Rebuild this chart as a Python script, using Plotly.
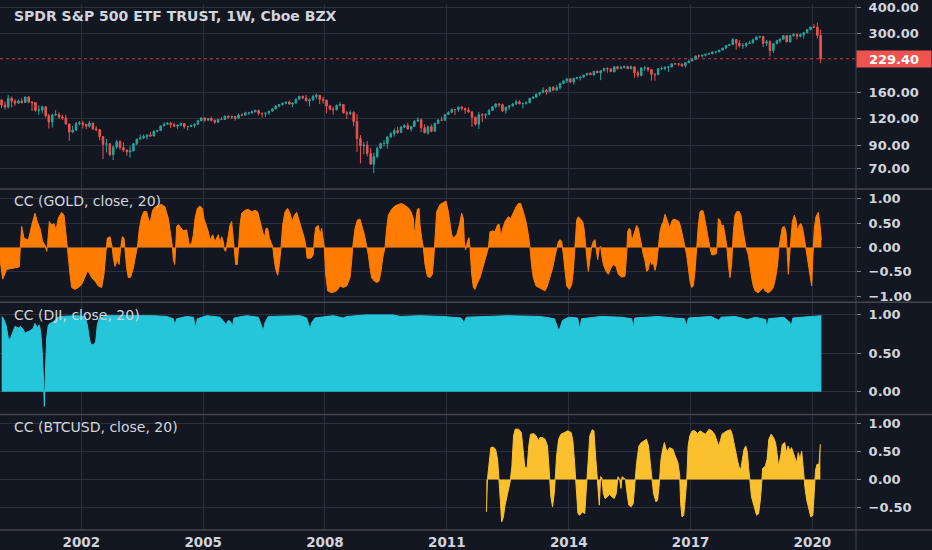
import numpy as np
import pandas as pd
import plotly.graph_objects as go
from plotly.subplots import make_subplots

# SPY monthly candles, Jan 2000 .. Mar 2020
SPY_FIRST_OPEN = 146.9
SPY_CLOSE = [
    139.4, 136.6, 149.9, 145.2, 142.1, 145.5, 143.1, 151.8, 143.7, 142.9, 131.5, 132.0,
    136.6, 124.0, 116.0, 124.9, 125.6, 122.4, 121.1, 113.4, 104.1, 106.0, 113.9, 114.8,
    113.0, 110.7, 114.7, 107.7, 106.7, 99.0, 91.2, 91.6, 81.5, 88.6, 93.6, 88.0,
    85.6, 84.1, 84.8, 91.7, 96.4, 97.5, 99.0, 100.8, 99.6, 105.1, 105.8, 111.2,
    113.1, 114.5, 112.6, 110.7, 112.1, 114.1, 110.2, 110.4, 111.5, 113.0, 117.4, 121.2,
    118.1, 120.4, 118.1, 115.7, 119.2, 119.1, 123.4, 122.0, 122.9, 120.7, 124.9, 124.8,
    128.0, 128.1, 129.5, 131.1, 127.0, 127.0, 127.7, 130.4, 133.6, 137.8, 140.1, 141.8,
    143.8, 140.7, 142.1, 148.2, 153.1, 150.3, 145.5, 147.4, 152.7, 154.9, 148.1, 146.8,
    137.9, 133.1, 132.3, 138.6, 140.0, 128.0, 126.7, 128.3, 116.6, 96.9, 89.6, 90.3,
    82.6, 73.5, 79.8, 87.3, 91.9, 91.9, 98.7, 102.1, 105.7, 103.6, 109.6, 111.5,
    107.4, 110.4, 116.9, 118.7, 108.9, 103.1, 110.2, 104.9, 114.1, 118.3, 118.1, 125.8,
    128.6, 132.7, 132.6, 136.4, 134.5, 132.1, 129.2, 121.9, 113.1, 125.3, 124.7, 125.8,
    131.2, 136.6, 140.8, 139.8, 131.0, 136.2, 137.9, 140.7, 144.1, 141.2, 141.6, 142.6,
    149.8, 151.5, 156.9, 159.8, 163.1, 160.6, 168.6, 163.3, 168.2, 175.7, 180.6, 184.8,
    178.3, 185.9, 187.2, 188.4, 192.4, 196.0, 193.1, 200.3, 197.2, 201.8, 206.8, 205.9,
    199.5, 210.5, 206.8, 208.6, 210.7, 206.3, 210.4, 197.2, 192.0, 207.9, 208.0, 204.4,
    194.0, 193.2, 206.0, 206.5, 209.7, 209.9, 217.4, 217.1, 216.8, 212.6, 219.9, 223.9,
    227.9, 236.4, 236.3, 238.4, 241.2, 242.3, 247.0, 247.2, 251.9, 257.5, 264.8, 267.4,
    282.4, 271.4, 264.1, 264.8, 270.5, 271.8, 281.6, 290.2, 291.4, 271.2, 276.0, 250.7,
    270.4, 278.4, 283.4, 294.6, 275.2, 294.2, 298.0, 292.6, 297.7, 303.8, 314.1, 323.1,
    322.6, 295.4, 229.4,
]
SPY_HIGH = [
    147.8, 144.6, 155.3, 152.8, 148.2, 147.7, 149.7, 152.5, 153.0, 145.4, 143.4, 138.9,
    138.4, 137.6, 126.7, 126.9, 131.6, 128.6, 125.4, 125.3, 114.3, 111.0, 116.0, 117.3,
    117.6, 113.0, 117.3, 115.0, 110.9, 107.1, 99.4, 96.5, 92.4, 90.0, 95.4, 95.4,
    93.1, 86.1, 89.5, 92.4, 96.5, 101.5, 101.5, 101.2, 104.0, 105.4, 106.3, 111.2,
    115.5, 115.9, 116.3, 115.0, 112.8, 115.0, 114.1, 111.0, 113.1, 114.2, 118.7, 121.8,
    121.7, 121.2, 122.9, 119.2, 119.9, 121.9, 124.5, 124.6, 124.2, 123.4, 127.0, 127.5,
    129.5, 129.4, 131.1, 132.6, 132.6, 128.8, 128.0, 130.7, 134.0, 138.9, 140.7, 143.1,
    144.1, 146.1, 143.8, 149.1, 153.5, 154.0, 155.5, 149.7, 155.4, 157.6, 155.2, 152.3,
    147.1, 139.6, 136.4, 140.0, 144.0, 140.5, 130.3, 131.3, 130.3, 126.4, 100.7, 93.4,
    94.3, 87.6, 83.2, 88.8, 93.0, 95.6, 99.0, 103.9, 108.0, 110.1, 111.0, 113.0,
    115.0, 111.2, 118.0, 121.9, 120.5, 113.1, 111.5, 112.9, 115.1, 119.6, 122.7, 126.0,
    130.2, 134.4, 133.2, 136.4, 137.1, 134.5, 135.6, 130.7, 122.9, 129.3, 127.7, 126.9,
    133.3, 137.8, 141.9, 142.2, 141.5, 136.3, 139.1, 142.6, 147.5, 146.6, 143.4, 144.8,
    150.3, 153.0, 157.0, 159.8, 168.7, 165.4, 169.8, 170.9, 172.9, 177.5, 181.4, 184.9,
    185.1, 186.8, 189.0, 189.1, 192.4, 196.8, 198.5, 200.6, 201.9, 201.9, 207.6, 209.4,
    206.4, 211.9, 211.7, 212.6, 213.5, 212.9, 213.3, 211.3, 202.1, 209.3, 211.6, 210.4,
    203.8, 196.2, 207.6, 211.1, 210.3, 212.0, 217.8, 219.4, 218.8, 217.5, 221.4, 227.7,
    230.0, 237.2, 240.1, 239.9, 241.8, 245.4, 248.4, 249.0, 251.9, 258.1, 265.7, 269.5,
    287.3, 283.5, 280.1, 271.7, 274.2, 279.1, 284.8, 291.6, 294.1, 293.9, 281.5, 280.0,
    271.3, 281.3, 286.0, 295.0, 295.4, 296.5, 302.8, 301.3, 302.1, 304.7, 315.4, 324.7,
    333.7, 339.3, 313.8,
]
SPY_LOW = [
    135.0, 132.5, 133.9, 135.7, 138.1, 141.9, 141.7, 142.2, 141.9, 130.5, 129.4, 125.4,
    127.4, 121.5, 108.1, 109.1, 123.4, 120.0, 118.3, 112.9, 94.5, 102.6, 105.4, 111.6,
    108.1, 107.4, 109.0, 106.3, 104.8, 95.3, 77.6, 83.4, 80.0, 76.8, 86.9, 86.0,
    84.0, 80.7, 78.9, 84.7, 90.2, 96.0, 96.5, 96.0, 99.0, 99.6, 103.5, 105.8,
    110.9, 112.3, 108.7, 110.7, 107.6, 111.3, 107.9, 106.0, 109.9, 109.0, 113.0, 117.3,
    116.3, 117.9, 116.5, 113.7, 114.6, 118.4, 118.3, 120.1, 120.1, 117.6, 120.1, 124.5,
    124.5, 125.3, 126.8, 128.6, 124.5, 121.9, 122.4, 125.3, 129.7, 133.1, 135.7, 138.5,
    140.3, 139.7, 136.3, 142.0, 147.6, 148.5, 145.5, 137.1, 145.5, 148.9, 140.6, 141.5,
    127.1, 131.2, 125.7, 131.3, 137.0, 127.2, 120.0, 124.8, 110.6, 84.0, 74.1, 81.8,
    80.0, 73.5, 66.7, 78.3, 86.4, 88.8, 86.9, 97.8, 99.2, 102.0, 102.9, 108.5,
    107.1, 104.4, 110.5, 116.9, 104.0, 102.8, 101.1, 103.9, 104.9, 113.2, 117.3, 118.6,
    125.7, 128.2, 124.9, 129.4, 131.1, 126.6, 128.2, 110.1, 111.4, 107.5, 115.9, 120.2,
    125.8, 131.2, 134.7, 135.8, 129.1, 126.7, 132.5, 137.0, 139.6, 140.3, 134.3, 139.8,
    142.6, 148.5, 150.1, 153.6, 158.2, 156.0, 160.6, 162.7, 163.3, 164.6, 174.6, 176.7,
    177.0, 173.8, 183.5, 181.5, 186.2, 192.5, 193.1, 190.4, 196.4, 182.1, 200.1, 197.2,
    198.8, 198.1, 204.0, 204.8, 206.8, 205.6, 204.4, 186.7, 187.2, 189.3, 201.9, 199.4,
    181.2, 181.0, 193.7, 203.3, 202.5, 199.1, 209.9, 215.8, 211.9, 209.7, 208.4, 218.9,
    224.5, 227.7, 232.2, 232.8, 235.3, 240.6, 240.7, 242.8, 246.9, 252.0, 254.3, 264.2,
    268.3, 253.3, 258.8, 255.4, 259.5, 269.0, 271.8, 281.2, 286.4, 260.3, 263.2, 235.1,
    244.3, 268.1, 272.2, 284.8, 275.2, 272.9, 291.3, 282.2, 288.9, 285.6, 303.7, 312.3,
    320.3, 285.6, 218.3,
]
SPY_LAST = 229.40

# 20-period correlation coefficients: (decimal year, value)
GOLD_CC = [
    (2000.000, -0.24), (2000.066, -0.65), (2000.164, -0.45), (2000.410, -0.42), (2000.476, -0.40),
    (2000.500, 0.00), (2000.533, 0.43), (2000.591, 0.19), (2000.698, 0.15), (2000.780, 0.45),
    (2000.862, 0.70), (2000.919, 0.52), (2000.985, 0.39), (2001.050, 0.12), (2001.108, 0.05),
    (2001.149, -0.08), (2001.173, 0.09), (2001.215, 0.53), (2001.272, 0.46), (2001.329, 0.49),
    (2001.379, 0.36), (2001.436, 0.60), (2001.518, 0.72), (2001.576, 0.66), (2001.617, 0.26),
    (2001.658, 0.00), (2001.723, -0.55), (2001.764, -0.82), (2001.846, -0.86), (2001.928, -0.82),
    (2002.011, -0.76), (2002.093, -0.59), (2002.150, -0.49), (2002.199, -0.52), (2002.257, -0.62),
    (2002.339, -0.69), (2002.421, -0.79), (2002.503, -0.82), (2002.560, -0.55), (2002.610, -0.08),
    (2002.642, 0.19), (2002.708, 0.22), (2002.765, -0.01), (2002.790, -0.22), (2002.831, -0.39),
    (2002.889, -0.25), (2002.930, -0.35), (2002.971, -0.01), (2003.012, 0.22), (2003.053, 0.19),
    (2003.086, -0.15), (2003.118, -0.42), (2003.159, -0.62), (2003.217, -0.61), (2003.282, -0.42),
    (2003.348, -0.15), (2003.389, 0.05), (2003.430, 0.39), (2003.488, 0.63), (2003.545, 0.74),
    (2003.611, 0.73), (2003.668, 0.53), (2003.709, 0.56), (2003.758, 0.76), (2003.816, 0.83),
    (2003.898, 0.86), (2003.980, 0.88), (2004.062, 0.83), (2004.144, 0.59), (2004.202, 0.26),
    (2004.243, 0.02), (2004.267, -0.25), (2004.300, -0.35), (2004.325, -0.01), (2004.349, 0.43),
    (2004.390, 0.47), (2004.472, 0.39), (2004.513, 0.34), (2004.595, 0.36), (2004.661, 0.05),
    (2004.719, 0.09), (2004.760, 0.26), (2004.801, 0.59), (2004.858, 0.80), (2004.924, 0.85),
    (2004.981, 0.80), (2005.022, 0.59), (2005.071, 0.46), (2005.129, 0.32), (2005.170, 0.15),
    (2005.236, 0.26), (2005.293, 0.12), (2005.334, 0.19), (2005.375, 0.26), (2005.416, 0.09),
    (2005.457, 0.22), (2005.498, 0.12), (2005.523, -0.05), (2005.556, -0.08), (2005.605, 0.19),
    (2005.662, 0.46), (2005.703, 0.53), (2005.745, 0.19), (2005.769, -0.15), (2005.802, -0.35),
    (2005.843, -0.35), (2005.868, 0.00), (2005.909, 0.46), (2005.950, 0.70), (2006.032, 0.76),
    (2006.114, 0.78), (2006.196, 0.73), (2006.278, 0.76), (2006.344, 0.73), (2006.385, 0.59),
    (2006.442, 0.39), (2006.508, 0.19), (2006.549, 0.39), (2006.590, 0.39), (2006.631, 0.19),
    (2006.672, 0.12), (2006.713, 0.02), (2006.746, -0.22), (2006.787, -0.45), (2006.836, -0.57),
    (2006.877, -0.35), (2006.918, 0.00), (2006.959, 0.46), (2007.017, 0.73), (2007.082, 0.80),
    (2007.140, 0.70), (2007.197, 0.53), (2007.246, 0.66), (2007.304, 0.72), (2007.361, 0.56),
    (2007.427, 0.39), (2007.492, 0.19), (2007.534, 0.02), (2007.558, -0.22), (2007.657, -0.22),
    (2007.714, -0.15), (2007.739, 0.19), (2007.771, 0.41), (2007.837, 0.45), (2007.878, 0.26),
    (2007.919, 0.39), (2007.960, 0.12), (2007.985, -0.01), (2008.018, -0.55), (2008.067, -0.89),
    (2008.165, -0.93), (2008.288, -0.89), (2008.371, -0.79), (2008.452, -0.82), (2008.535, -0.79),
    (2008.617, -0.62), (2008.658, -0.28), (2008.682, 0.00), (2008.740, 0.39), (2008.797, 0.56),
    (2008.863, 0.58), (2008.920, 0.43), (2008.970, 0.26), (2009.027, 0.02), (2009.068, -0.15),
    (2009.109, -0.42), (2009.150, -0.62), (2009.216, -0.69), (2009.273, -0.72), (2009.331, -0.69),
    (2009.380, -0.49), (2009.421, -0.22), (2009.478, 0.00), (2009.519, 0.39), (2009.560, 0.66),
    (2009.642, 0.78), (2009.725, 0.85), (2009.807, 0.88), (2009.889, 0.90), (2009.971, 0.86),
    (2010.053, 0.81), (2010.118, 0.73), (2010.176, 0.59), (2010.192, 0.39), (2010.217, 0.26),
    (2010.242, 0.59), (2010.275, 0.78), (2010.316, 0.80), (2010.340, 0.46), (2010.381, 0.19),
    (2010.422, 0.00), (2010.463, -0.35), (2010.521, -0.59), (2010.586, -0.62), (2010.644, -0.55),
    (2010.685, -0.15), (2010.709, 0.26), (2010.750, 0.73), (2010.833, 0.88), (2010.915, 0.92),
    (2010.980, 0.95), (2011.038, 0.73), (2011.079, 0.53), (2011.120, 0.26), (2011.161, 0.19),
    (2011.243, 0.26), (2011.309, 0.46), (2011.366, 0.70), (2011.407, 0.59), (2011.432, 0.12),
    (2011.464, -0.05), (2011.505, 0.12), (2011.546, 0.20), (2011.571, -0.01), (2011.612, -0.55),
    (2011.653, -0.82), (2011.694, -0.86), (2011.735, -0.76), (2011.817, -0.62), (2011.899, -0.35),
    (2011.965, -0.18), (2012.022, -0.01), (2012.063, 0.32), (2012.129, 0.34), (2012.187, 0.32),
    (2012.244, 0.46), (2012.293, 0.47), (2012.334, 0.22), (2012.375, 0.39), (2012.433, 0.53),
    (2012.515, 0.63), (2012.572, 0.59), (2012.638, 0.73), (2012.704, 0.83), (2012.761, 0.90),
    (2012.818, 0.90), (2012.884, 0.73), (2012.950, 0.53), (2013.007, 0.26), (2013.048, 0.00),
    (2013.089, -0.39), (2013.130, -0.62), (2013.196, -0.79), (2013.253, -0.82), (2013.336, -0.86),
    (2013.418, -0.89), (2013.475, -0.79), (2013.541, -0.59), (2013.606, -0.42), (2013.664, -0.18),
    (2013.705, 0.00), (2013.746, 0.12), (2013.787, 0.16), (2013.828, 0.12), (2013.869, -0.15),
    (2013.910, -0.55), (2013.951, -0.79), (2014.017, -0.86), (2014.074, -0.76), (2014.115, -0.49),
    (2014.156, 0.00), (2014.197, 0.56), (2014.238, 0.63), (2014.295, 0.58), (2014.345, 0.53),
    (2014.378, 0.39), (2014.410, 0.02), (2014.443, -0.18), (2014.484, -0.49), (2014.525, -0.22),
    (2014.566, 0.02), (2014.607, 0.12), (2014.648, 0.16), (2014.673, -0.01), (2014.714, -0.25),
    (2014.755, 0.00), (2014.788, 0.02), (2014.812, -0.15), (2014.853, -0.35), (2014.919, -0.49),
    (2014.977, -0.55), (2015.042, -0.42), (2015.100, -0.35), (2015.165, -0.39), (2015.222, -0.55),
    (2015.304, -0.61), (2015.386, -0.59), (2015.427, -0.15), (2015.452, 0.32), (2015.485, 0.39),
    (2015.526, 0.36), (2015.550, 0.12), (2015.591, 0.22), (2015.632, 0.36), (2015.673, 0.45),
    (2015.714, 0.39), (2015.755, 0.19), (2015.797, 0.00), (2015.838, -0.15), (2015.879, -0.28),
    (2015.920, -0.49), (2015.961, -0.45), (2016.002, -0.25), (2016.043, -0.35), (2016.084, -0.32),
    (2016.125, -0.47), (2016.166, -0.32), (2016.207, 0.00), (2016.248, 0.32), (2016.289, 0.46),
    (2016.330, 0.53), (2016.371, 0.68), (2016.412, 0.59), (2016.453, 0.46), (2016.494, 0.39),
    (2016.535, 0.53), (2016.576, 0.58), (2016.658, 0.56), (2016.716, 0.53), (2016.765, 0.39),
    (2016.822, 0.19), (2016.863, 0.00), (2016.904, -0.15), (2016.945, -0.42), (2016.986, -0.69),
    (2017.027, -0.82), (2017.068, -0.79), (2017.110, -0.49), (2017.151, 0.00), (2017.192, 0.46),
    (2017.233, 0.73), (2017.274, 0.76), (2017.315, 0.74), (2017.356, 0.56), (2017.397, 0.32),
    (2017.438, 0.12), (2017.479, -0.01), (2017.520, -0.15), (2017.585, -0.15), (2017.643, -0.12),
    (2017.668, 0.39), (2017.684, 0.59), (2017.725, 0.56), (2017.766, 0.43), (2017.807, 0.46),
    (2017.848, 0.26), (2017.889, 0.05), (2017.930, -0.35), (2017.971, -0.62), (2018.012, -0.35),
    (2018.053, 0.32), (2018.094, 0.66), (2018.135, 0.73), (2018.193, 0.74), (2018.242, 0.66),
    (2018.283, 0.39), (2018.324, 0.19), (2018.365, 0.00), (2018.422, -0.15), (2018.464, -0.42),
    (2018.505, -0.62), (2018.546, -0.79), (2018.587, -0.89), (2018.669, -0.93), (2018.751, -0.86),
    (2018.792, -0.82), (2018.833, -0.89), (2018.915, -0.93), (2018.980, -0.89), (2019.038, -0.82),
    (2019.095, -0.62), (2019.145, -0.35), (2019.177, 0.00), (2019.210, 0.19), (2019.259, 0.41),
    (2019.309, 0.43), (2019.350, 0.32), (2019.374, 0.00), (2019.407, -0.55), (2019.440, -0.15),
    (2019.465, 0.19), (2019.506, 0.53), (2019.555, 0.66), (2019.596, 0.56), (2019.637, 0.32),
    (2019.678, 0.46), (2019.719, 0.49), (2019.760, 0.39), (2019.801, 0.19), (2019.834, 0.00),
    (2019.867, -0.22), (2019.900, -0.42), (2019.941, -0.59), (2019.982, -0.79), (2020.015, -0.15),
    (2020.047, 0.39), (2020.088, 0.63), (2020.146, 0.72), (2020.187, 0.46), (2020.220, 0.15),
]

DJI_CC = [
    (2000.041, 0.98), (2000.082, 0.96), (2000.148, 0.87), (2000.205, 0.70), (2000.246, 0.68),
    (2000.312, 0.76), (2000.369, 0.85), (2000.451, 0.83), (2000.509, 0.85), (2000.574, 0.81),
    (2000.615, 0.76), (2000.673, 0.78), (2000.739, 0.79), (2000.821, 0.83), (2000.862, 0.89),
    (2000.919, 0.83), (2000.968, 0.87), (2001.001, 0.78), (2001.034, 0.57), (2001.067, 0.22),
    (2001.091, -0.19), (2001.116, 0.22), (2001.149, 0.70), (2001.190, 0.87), (2001.231, 0.89),
    (2001.313, 0.91), (2001.395, 0.96), (2001.477, 0.98), (2001.887, 0.99), (2002.093, 0.98),
    (2002.150, 0.87), (2002.199, 0.70), (2002.232, 0.62), (2002.298, 0.61), (2002.355, 0.65),
    (2002.396, 0.87), (2002.445, 0.96), (2002.626, 0.99), (2003.282, 0.99), (2003.775, 0.99),
    (2004.103, 0.98), (2004.267, 0.95), (2004.308, 0.87), (2004.349, 0.95), (2004.595, 0.98),
    (2004.760, 0.97), (2004.817, 0.83), (2004.858, 0.95), (2005.088, 0.99), (2005.416, 0.97),
    (2005.515, 0.91), (2005.564, 0.87), (2005.621, 0.93), (2005.679, 0.91), (2005.720, 0.85),
    (2005.761, 0.96), (2006.073, 0.99), (2006.360, 0.97), (2006.442, 0.85), (2006.483, 0.80),
    (2006.524, 0.90), (2006.606, 0.98), (2007.386, 0.99), (2007.550, 0.96), (2007.591, 0.89),
    (2007.632, 0.82), (2007.673, 0.90), (2007.755, 0.96), (2008.206, 0.99), (2008.452, 0.96),
    (2008.534, 0.98), (2009.027, 1.00), (2009.683, 1.00), (2009.848, 0.98), (2010.340, 0.99),
    (2010.900, 0.98), (2011.350, 0.96), (2011.420, 0.90), (2011.480, 0.97), (2012.500, 0.99),
    (2013.300, 0.98), (2013.650, 0.95), (2013.760, 0.79), (2013.850, 0.93), (2014.000, 0.97),
    (2014.220, 0.96), (2014.270, 0.82), (2014.320, 0.95), (2014.800, 0.98), (2015.300, 0.97),
    (2015.550, 0.95), (2015.590, 0.84), (2015.630, 0.96), (2016.200, 0.98), (2016.600, 0.96),
    (2016.850, 0.95), (2016.900, 0.86), (2016.950, 0.96), (2017.500, 0.98), (2017.700, 0.93),
    (2017.750, 0.97), (2018.100, 0.98), (2018.400, 0.94), (2018.600, 0.97), (2018.850, 0.94),
    (2018.880, 0.82), (2018.920, 0.95), (2019.300, 0.97), (2019.450, 0.90), (2019.470, 0.84),
    (2019.520, 0.96), (2019.900, 0.98), (2020.220, 0.99),
]

BTC_CC = [
    (2011.975, -0.58), (2012.000, 0.00), (2012.033, 0.23), (2012.084, 0.57), (2012.142, 0.58),
    (2012.200, 0.54), (2012.250, 0.36), (2012.284, 0.05), (2012.317, -0.37), (2012.350, -0.76),
    (2012.392, -0.67), (2012.434, -0.46), (2012.501, -0.25), (2012.559, -0.04), (2012.601, 0.23),
    (2012.643, 0.78), (2012.684, 0.90), (2012.768, 0.90), (2012.835, 0.84), (2012.868, 0.54),
    (2012.918, 0.23), (2012.976, 0.20), (2013.018, 0.60), (2013.060, 0.81), (2013.143, 0.82),
    (2013.202, 0.78), (2013.252, 0.69), (2013.294, 0.75), (2013.352, 0.75), (2013.419, 0.72),
    (2013.477, 0.60), (2013.519, 0.17), (2013.561, -0.31), (2013.602, -0.49), (2013.644, -0.25),
    (2013.669, 0.02), (2013.702, 0.42), (2013.753, 0.72), (2013.811, 0.81), (2013.894, 0.84),
    (2013.978, 0.87), (2014.061, 0.84), (2014.103, 0.69), (2014.145, 0.30), (2014.186, -0.19),
    (2014.228, -0.61), (2014.270, -0.64), (2014.337, -0.58), (2014.395, -0.61), (2014.437, -0.07),
    (2014.479, 0.48), (2014.520, 0.78), (2014.579, 0.89), (2014.621, 0.87), (2014.662, 0.42),
    (2014.704, 0.00), (2014.729, -0.37), (2014.754, -0.46), (2014.787, 0.05), (2014.821, 0.02),
    (2014.854, -0.25), (2014.896, -0.34), (2014.954, -0.31), (2015.004, -0.26), (2015.063, -0.31),
    (2015.121, -0.34), (2015.171, -0.25), (2015.213, 0.05), (2015.255, 0.00), (2015.288, -0.16),
    (2015.313, 0.05), (2015.355, 0.02), (2015.397, 0.00), (2015.438, -0.25), (2015.480, -0.46),
    (2015.538, -0.49), (2015.589, -0.43), (2015.630, -0.07), (2015.672, 0.30), (2015.730, 0.60),
    (2015.789, 0.66), (2015.855, 0.69), (2015.914, 0.72), (2015.964, 0.60), (2016.006, 0.30),
    (2016.039, 0.00), (2016.089, -0.25), (2016.148, -0.40), (2016.189, -0.37), (2016.231, -0.07),
    (2016.273, 0.36), (2016.315, 0.54), (2016.356, 0.66), (2016.398, 0.54), (2016.440, 0.51),
    (2016.481, 0.57), (2016.565, 0.54), (2016.607, 0.45), (2016.648, 0.36), (2016.690, 0.30),
    (2016.732, 0.08), (2016.757, -0.43), (2016.790, -0.67), (2016.832, -0.64), (2016.874, -0.31),
    (2016.907, 0.00), (2016.940, 0.60), (2016.982, 0.78), (2017.040, 0.87), (2017.107, 0.87),
    (2017.174, 0.82), (2017.232, 0.87), (2017.299, 0.84), (2017.358, 0.81), (2017.400, 0.84),
    (2017.458, 0.90), (2017.525, 0.87), (2017.591, 0.81), (2017.650, 0.69), (2017.691, 0.60),
    (2017.733, 0.69), (2017.775, 0.81), (2017.833, 0.84), (2017.900, 0.87), (2017.983, 0.89),
    (2018.025, 0.81), (2018.067, 0.66), (2018.109, 0.48), (2018.150, 0.36), (2018.192, 0.23),
    (2018.234, 0.17), (2018.276, 0.36), (2018.317, 0.54), (2018.359, 0.60), (2018.401, 0.48),
    (2018.426, 0.23), (2018.459, 0.00), (2018.501, -0.31), (2018.568, -0.49), (2018.626, -0.64),
    (2018.676, -0.61), (2018.718, -0.37), (2018.751, -0.07), (2018.776, 0.20), (2018.835, 0.23),
    (2018.885, 0.36), (2018.927, 0.72), (2018.985, 0.81), (2019.043, 0.75), (2019.093, 0.66),
    (2019.127, 0.48), (2019.169, 0.23), (2019.219, 0.42), (2019.260, 0.63), (2019.319, 0.66),
    (2019.360, 0.48), (2019.402, 0.60), (2019.444, 0.51), (2019.486, 0.57), (2019.527, 0.48),
    (2019.569, 0.42), (2019.611, 0.30), (2019.653, 0.48), (2019.694, 0.36), (2019.736, 0.51),
    (2019.778, 0.11), (2019.819, -0.16), (2019.861, -0.37), (2019.903, -0.52), (2019.961, -0.67),
    (2020.011, -0.64), (2020.045, -0.19), (2020.078, 0.17), (2020.112, 0.27), (2020.162, 0.27),
    (2020.195, 0.63),
]

PRICE_TICKS = [70, 90, 120, 160, 300, 400]
CC_TICKS = [-1.0, -0.5, 0.0, 0.5, 1.0]

BG = "#131722"
GRID = "#2c303c"
SEP = "#434651"
TEXT = "#d1d4dc"
UP = "#26a69a"
DOWN = "#ef5350"
FONT = "DejaVu Sans"


def to_dates(years):
    years = np.asarray(years, dtype=float)
    return pd.Timestamp("2000-01-01") + pd.to_timedelta((years - 2000.0) * 365.25, unit="D")


def fmt(v):
    s = f"{abs(v):.2f}"
    return ("\u2212" + s) if v < 0 else s


months = pd.date_range("2000-01-01", periods=len(SPY_CLOSE), freq="MS") + pd.Timedelta(days=14)
spy_open = [SPY_FIRST_OPEN] + SPY_CLOSE[:-1]

fig = make_subplots(rows=4, cols=1, shared_xaxes=True, vertical_spacing=0)

fig.add_trace(go.Candlestick(
    x=months, open=spy_open, high=SPY_HIGH, low=SPY_LOW, close=SPY_CLOSE,
    increasing=dict(line=dict(color=UP, width=1), fillcolor=UP),
    decreasing=dict(line=dict(color=DOWN, width=1), fillcolor=DOWN),
    whiskerwidth=0, showlegend=False,
), row=1, col=1)

x_start = pd.Timestamp("2000-01-01")
x_end = pd.Timestamp("2021-01-27")

# last price line
fig.add_trace(go.Scatter(
    x=[x_start, x_end], y=[SPY_LAST, SPY_LAST], mode="lines",
    line=dict(color="rgba(239,83,80,0.75)", width=1, dash="dot"),
    hoverinfo="skip", showlegend=False,
), row=1, col=1)

for row, data, color in [(2, GOLD_CC, "#ff7c00"), (3, DJI_CC, "#26c6da"), (4, BTC_CC, "#fbc02d")]:
    t, v = zip(*data)
    fig.add_trace(go.Scatter(
        x=to_dates(t), y=list(v), mode="lines", fill="tozeroy",
        line=dict(color=color, width=1), fillcolor=color, showlegend=False,
    ), row=row, col=1)

# pane layout (paper units), matched to a 530px tall plot area
doms = [(0.6491, 1.0), (0.4340, 0.6472), (0.2208, 0.4321), (0.0, 0.2189)]
ranges = [
    [np.log10(56.5), np.log10(414.4)],
    [-1.112, 1.185],
    [-0.288, 1.159],
    [-0.904, 1.156],
]
ticks = [PRICE_TICKS, CC_TICKS, [0.0, 0.5, 1.0], [-0.5, 0.0, 0.5, 1.0]]
tickfont = dict(family=FONT, size=13, color=TEXT, weight="bold")

for i in range(4):
    yname = "yaxis" if i == 0 else f"yaxis{i + 1}"
    xname = "xaxis" if i == 0 else f"xaxis{i + 1}"
    tv = ticks[i]
    fig.update_layout({
        yname: dict(
            domain=list(doms[i]), range=ranges[i], side="right",
            type="log" if i == 0 else "linear",
            tickvals=tv, ticktext=[fmt(v) for v in tv],
            showgrid=True, gridcolor=GRID, gridwidth=1, zeroline=False,
            ticks="outside", ticklen=4, tickcolor="#787b86",
            ticklabelstandoff=5, ticklabeloverflow="allow", showline=False,
            tickfont=tickfont, fixedrange=True,
        ),
        xname: dict(
            type="date", range=[x_start, x_end],
            showgrid=True, gridcolor=GRID, gridwidth=1, zeroline=False,
            tick0="2002-01-01", dtick="M36", tickformat="%Y",
            showticklabels=(i == 3), ticks="", showline=False,
            ticklabelstandoff=2, ticklabeloverflow="allow",
            tickfont=dict(family=FONT, size=13.5, color=TEXT, weight="bold"),
            rangeslider=dict(visible=False),
        ),
    })

# separators between panes and the price scale
xr = 932 / 856
shapes = []
for y in [doms[0][0] - 0.001, doms[1][0] - 0.001, doms[2][0] - 0.001, 0.0]:
    shapes.append(dict(type="line", xref="paper", yref="paper", x0=0, x1=xr, y0=y, y1=y,
                       line=dict(color=SEP, width=1.5)))
shapes.append(dict(type="line", xref="paper", yref="paper", x0=1.0, x1=1.0, y0=-0.04, y1=1.0,
                   line=dict(color=SEP, width=1)))

annotations = [
    dict(text="SPDR S&P 500 ETF TRUST, 1W, Cboe BZX", x=12 / 856, y=1.0 - 12 / 530),
    dict(text="CC (GOLD, close, 20)", x=12 / 856, y=doms[1][1] - 12 / 530),
    dict(text="CC (DJI, close, 20)", x=12 / 856, y=doms[2][1] - 12 / 530),
    dict(text="CC (BTCUSD, close, 20)", x=12 / 856, y=doms[3][1] - 12 / 530),
]
for a in annotations:
    a.update(xref="paper", yref="paper", xanchor="left", yanchor="middle", showarrow=False,
             font=dict(family=FONT, size=14, color=TEXT))
annotations[0]["font"] = dict(family=FONT, size=14, color=TEXT, weight="bold")

annotations.append(dict(
    text=f"{SPY_LAST:.2f}", xref="paper", yref="y", x=1.0, y=np.log10(SPY_LAST),
    xanchor="left", yanchor="middle", showarrow=False, bgcolor=DOWN,
    width=72, height=14, borderpad=1, align="center",
    font=dict(family=FONT, size=13, color="#ffffff", weight="bold"),
))

fig.update_layout(
    width=932, height=550,
    margin=dict(l=0, r=76, t=0, b=20),
    paper_bgcolor=BG, plot_bgcolor=BG,
    showlegend=False,
    shapes=shapes, annotations=annotations,
    font=dict(family=FONT, color=TEXT),
)

fig.write_html("out.html", config={"displayModeBar": False},
               post_script="document.body.style.margin='0';")
